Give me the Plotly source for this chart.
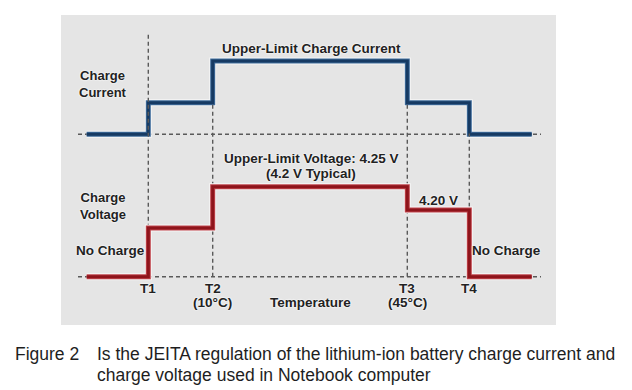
import plotly.graph_objects as go

# ---------------- data (schematic units) ----------------
# x positions: line start, T1, T2, T3, T4, line end  (schematic temperature axis)
x_points = [0.0, 6.16, 12.6, 32.06, 38.26, 44.5]
tick_names = ["T1", "T2", "T3", "T4"]
tick_sub = ["", "(10°C)", "(45°C)", ""]
# relative charge current level in each temperature zone (0 = no charge, 1 = upper limit)
current_levels = [0.0, 0.43, 1.0, 0.43, 0.0, 0.0]
# relative charge voltage level in each zone (0 = no charge, 1 = 4.25 V upper limit)
voltage_levels = [0.0, 0.54, 1.0, 0.74, 0.0, 0.0]
# top of each dashed temperature guide, on the voltage scale
guide_tops = [2.72, 1.93, 1.93, 1.59]

# ---------------- layout helpers ----------------
W, H = 632, 390
PX_PER_X = 10.0
X0_PX = 86.7            # pixel of x = 0


def xr():
    return [(0 - X0_PX) / PX_PER_X, (W - X0_PX) / PX_PER_X]


def yr(base_px, unit_px):
    lo = -(H - base_px) / unit_px
    return [lo, lo + H / unit_px]


BLUE_EDGE, BLUE = "#3f6c9b", "#163a63"
RED_EDGE, RED = "#c0444c", "#8e141b"
GUIDE = "#5a5a5a"
TXT = "#222222"
FONT = "Liberation Sans, Arial, sans-serif"

fig = go.Figure()

# dashed horizontal baselines
for axis in ("y", "y2"):
    fig.add_trace(go.Scatter(x=[-0.87, 45.43], y=[0, 0], mode="lines", yaxis=axis,
                             line=dict(color=GUIDE, width=1.4, dash="4px,3px"),
                             hoverinfo="skip", showlegend=False))

# dashed vertical temperature guides
tx = x_points[1:5]
for xv, top in zip(tx, guide_tops):
    fig.add_trace(go.Scatter(x=[xv, xv], y=[0, top], mode="lines", yaxis="y2",
                             line=dict(color=GUIDE, width=1.4, dash="4px,3px"),
                             hoverinfo="skip", showlegend=False))

# step lines: white halo, lighter edge, dark core
for levels, edge, core, axis in ((current_levels, BLUE_EDGE, BLUE, "y"),
                                 (voltage_levels, RED_EDGE, RED, "y2")):
    for col, wd in (("#f6f6f6", 7), (edge, 5), (core, 3)):
        fig.add_trace(go.Scatter(x=x_points, y=levels, mode="lines", yaxis=axis,
                                 line=dict(color=col, width=wd, shape="hv"),
                                 hoverinfo="skip", showlegend=False))

HALO = "0px 0px 2px #ffffff, 0px 0px 2px #ffffff"


def label(text, x, y, yref="y", size=13.5, xanchor="center"):
    fig.add_annotation(x=x, y=y, xref="x", yref=yref, text=text, showarrow=False,
                       xanchor=xanchor, yanchor="middle",
                       font=dict(family=FONT, size=size, color=TXT, weight="bold",
                                 shadow=HALO))


# current panel labels
label("Charge<br>Current", 1.58, 0.68, "y", size=13)
label("Upper-Limit Charge Current", 22.45, 1.173, "y")
# voltage panel labels
label("Upper-Limit Voltage: 4.25 V", 22.45, 1.316, "y2")
label("(4.2 V Typical)", 22.45, 1.149, "y2")
label("Charge<br>Voltage", 1.58, 0.785, "y2", size=13)
label("No Charge", 2.38, 0.289, "y2")
label("4.20 V", 35.13, 0.852, "y2")
label("No Charge", 41.98, 0.286, "y2")
# temperature tick labels
for xv, name, sub in zip(tx, tick_names, tick_sub):
    label(name, xv, -0.126, "y2")
    if sub:
        label(sub, xv, -0.292, "y2")
label("Temperature", 22.4, -0.292, "y2")

# caption
cap_font = dict(family=FONT, size=17.5, color="#1e1e1e")
fig.add_annotation(x=13 / W, y=1 - 354 / H, xref="paper", yref="paper", text="Figure 2",
                   showarrow=False, xanchor="left", yanchor="middle", font=cap_font)
fig.add_annotation(x=95 / W, y=1 - 354 / H, xref="paper", yref="paper",
                   text="Is the JEITA regulation of the lithium-ion battery charge current and",
                   showarrow=False, xanchor="left", yanchor="middle", font=cap_font)
fig.add_annotation(x=95 / W, y=1 - 375 / H, xref="paper", yref="paper",
                   text="charge voltage used in Notebook computer",
                   showarrow=False, xanchor="left", yanchor="middle", font=cap_font)

# grey panel
fig.add_shape(type="rect", xref="paper", yref="paper", layer="below",
              x0=61 / W, x1=556 / W, y0=1 - 325 / H, y1=1 - 15 / H,
              fillcolor="#e5e5e5", line=dict(width=0))

axis_off = dict(showgrid=False, zeroline=False, showticklabels=False, ticks="",
                showline=False, fixedrange=True)
fig.update_layout(
    width=W, height=H, margin=dict(l=0, r=0, t=0, b=0),
    paper_bgcolor="white", plot_bgcolor="rgba(0,0,0,0)",
    xaxis=dict(range=xr(), domain=[0, 1], **axis_off),
    yaxis=dict(range=yr(134.3, 73.3), domain=[0, 1], **axis_off),
    yaxis2=dict(range=yr(276.7, 90.0), domain=[0, 1], overlaying="y", **axis_off),
    showlegend=False,
)

fig.write_html("out.html", config={"displayModeBar": False},
               post_script="document.body.style.margin='0';document.body.style.overflow='hidden';")
